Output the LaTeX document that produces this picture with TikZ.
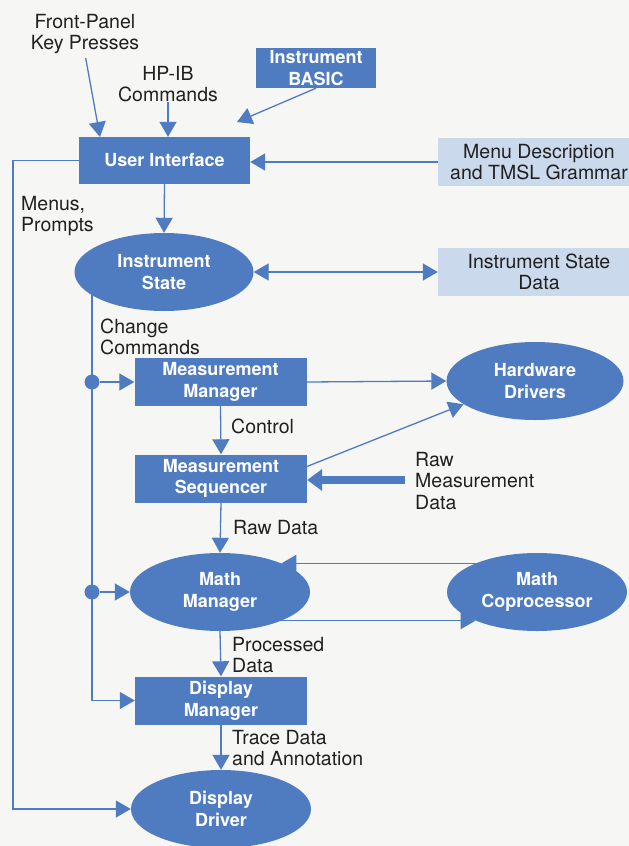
\documentclass[tikz,border=0pt]{standalone}
\usepackage{fontspec}
\setmainfont{TeX Gyre Heros}
\usetikzlibrary{arrows.meta,shapes.geometric}
\definecolor{hpblue}{HTML}{4F7CC1}
\definecolor{hplight}{HTML}{CADAEC}
\definecolor{paper}{HTML}{F6F6F4}
\definecolor{ink}{HTML}{202020}
\tikzset{
  blk/.style={fill=hpblue, text=white, font=\fontsize{18}{21.5}\selectfont\bfseries, align=center, inner sep=0pt},
  boxn/.style={blk, rectangle, minimum width=172pt, minimum height=48pt},
  oval/.style={blk, ellipse, minimum width=179pt, minimum height=78pt},
  store/.style={fill=hplight, text=ink, font=\fontsize{19.5}{21.5}\selectfont, align=center, minimum width=202pt, minimum height=48pt, inner sep=0pt},
  lbl/.style={text=ink, font=\fontsize{19.5}{21.5}\selectfont, align=left, anchor=west, inner sep=0pt},
  flow/.style={draw=hpblue, line width=1.3pt, -{Triangle[length=15pt,width=17pt]}},
  both/.style={flow, {Triangle[length=15pt,width=17pt]}-{Triangle[length=15pt,width=17pt]}},
  joint/.style={circle, fill=hpblue, minimum size=15pt, inner sep=0pt}
}
\begin{document}
\begin{tikzpicture}[x=1pt,y=-1pt]
  \fill[paper] (0,0) rectangle (629,846);
  \useasboundingbox (0,0) rectangle (629,846);

  % inputs and user interface
  \node[lbl, anchor=center, align=center] (fp) at (85,34) {Front-Panel\\Key Presses};
  \node[lbl, anchor=center, align=center] (hpib) at (168,84) {HP-IB\\Commands};
  \node[boxn, minimum width=120pt, minimum height=40pt] (basic) at (316,68) {Instrument\\BASIC};
  \node[boxn, minimum width=171pt, minimum height=47pt] (ui) at (164.5,160.5) {User Interface};
  \node[store] (menu) at (539,162) {Menu Description\\and TMSL Grammar};
  \coordinate (fpin) at (100,137);
  \coordinate (bsin) at (237,122);
  \draw[flow, shorten <=4pt] (fp.south) -- (fpin);
  \draw[flow] (hpib.south) -- (hpib.south |- ui.north);
  \draw[flow] (basic.south) -- (bsin);
  \draw[flow] (menu.west) -- (menu.west -| ui.east);

  % state and managers
  \node[oval] (istate) at (164,272) {Instrument\\State};
  \node[store] (isdata) at (539,272) {Instrument State\\Data};
  \node[boxn] (mm) at (220.5,382) {Measurement\\Manager};
  \node[oval, minimum width=177pt] (hd) at (535,381) {Hardware\\Drivers};
  \node[boxn] (ms) at (221,478.5) {Measurement\\Sequencer};
  \node[oval, minimum width=180pt] (mmgr) at (220,592) {Math\\Manager};
  \node[oval, minimum width=180pt] (mc) at (537,592) {Math\\Coprocessor};
  \node[boxn] (dm) at (221,700.5) {Display\\Manager};
  \node[oval, minimum width=180pt] (dd) at (221,809) {Display\\Driver};

  \draw[flow] (ui.south) -- (istate.north);
  \draw[both] (istate.east) -- (isdata.west);
  \draw[flow] (mm.east) -- (hd.west);
  \draw[flow] (mm.south) -- (ms.north);
  \draw[flow] (ms.8) -- (hd.198);
  \coordinate (rawin) at (405,480);
  \draw[draw=hpblue, line width=8pt, -{Triangle[length=15pt,width=21pt]}] (rawin) -- (rawin -| ms.east);
  \draw[flow] (ms.south) -- (mmgr.north);
  \draw[flow] (mc.155) -- (mmgr.25);
  \draw[flow] (mmgr.-25) -- (mc.205);
  \draw[flow] (mmgr.south) -- (dm.north);
  \draw[flow] (dm.south) -- (dd.north);

  % command bus and menu loop
  \draw[flow] (istate.198) |- (dm.west);
  \node[joint] (j1) at (istate.198 |- mm.west) {};
  \node[joint] (j2) at (istate.198 |- mmgr.west) {};
  \draw[flow] (j1) -- (mm.west);
  \draw[flow] (j2) -- (mmgr.west);
  \coordinate (lp) at (13,809);
  \draw[flow] (ui.west) -| (lp) -- (dd.west);

  % connector labels
  \node[lbl] (menus) at (21,216) {Menus,\\Prompts};
  \node[lbl] (chg) at (100,337) {Change\\Commands};
  \node[lbl] (ctl) at (231,426) {Control};
  \node[lbl] (rawm) at (415,481) {Raw\\Measurement\\Data};
  \node[lbl] (rawd) at (233,528) {Raw Data};
  \node[lbl] (proc) at (232,655) {Processed\\Data};
  \node[lbl] (trace) at (232,748) {Trace Data\\and Annotation};
\end{tikzpicture}
\end{document}
